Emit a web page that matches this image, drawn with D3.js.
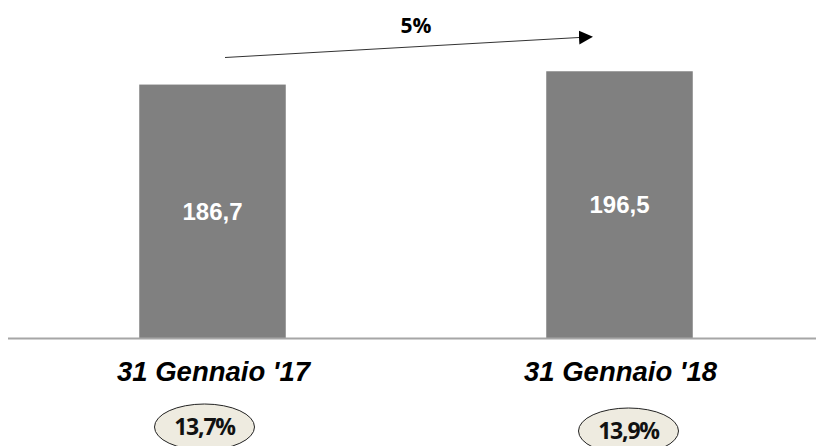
<!DOCTYPE html>
<html>
<head>
<meta charset="utf-8">
<script src="https://cdn.jsdelivr.net/npm/d3@7"></script>
<style>
  body { margin: 0; background: #fff; }
</style>
</head>
<body>
<div id="chart"></div>
<script>
// data
let categories = ["31 Gennaio '17", "31 Gennaio '18"];
let values = [186.7, 196.5];
let ratios = ["13,7%", "13,9%"];
let growth = "5%";

let width = 816, height = 446;

// small horizontal nudge of the ratio bubbles relative to bar centre
let bubbleShift = [-8, 9];

let svg = d3.select("#chart")
    .append("svg")
    .attr("width", width)
    .attr("height", height);

// scales
let x = d3.scaleBand()
    .domain(categories)
    .range([9, 823])
    .paddingInner(0.64)
    .paddingOuter(0.32);

let y = d3.scaleLinear()
    .domain([0, 249])
    .range([338, 0]);

let fmt = function (v) { return d3.format(".1f")(v).replace(".", ","); };

// bars
svg.selectAll("rect.bar")
    .data(values)
    .enter()
    .append("rect")
    .attr("class", "bar")
    .attr("x", function (d, i) { return x(categories[i]) })
    .attr("y", function (d) { return y(d) })
    .attr("width", x.bandwidth())
    .attr("height", function (d) { return y(0) - y(d) })
    .style("fill", "#808080");

// value labels inside bars
svg.selectAll("text.val")
    .data(values)
    .enter()
    .append("text")
    .attr("class", "val")
    .attr("x", function (d, i) { return x(categories[i]) + x.bandwidth() / 2 })
    .attr("y", function (d) { return (y(d) + y(0)) / 2 + 8.5 })
    .attr("text-anchor", "middle")
    .style("font-family", "'Liberation Sans', Arial, sans-serif")
    .style("font-weight", "bold")
    .style("font-size", "24px")
    .style("fill", "#fff")
    .text(function (d) { return fmt(d) });

// baseline
svg.append("line")
    .attr("x1", 8)
    .attr("x2", width)
    .attr("y1", y(0) + 0.5)
    .attr("y2", y(0) + 0.5)
    .attr("stroke", "#a6a6a6")
    .attr("stroke-width", 2);

// category labels
svg.selectAll("text.cat")
    .data(categories)
    .enter()
    .append("text")
    .attr("class", "cat")
    .attr("x", function (d) { return x(d) + x.bandwidth() / 2 + 1 })
    .attr("y", 381)
    .attr("text-anchor", "middle")
    .style("font-family", "'Liberation Sans', Arial, sans-serif")
    .style("font-weight", "bold")
    .style("font-style", "italic")
    .style("font-size", "27.5px")
    .style("fill", "#000")
    .text(function (d) { return d });

// ratio bubbles
let bubbles = svg.selectAll("g.bubble")
    .data(ratios)
    .enter()
    .append("g")
    .attr("class", "bubble")
    .attr("transform", function (d, i) {
        return "translate(" + (x(categories[i]) + x.bandwidth() / 2 + bubbleShift[i]) + "," + (427 + i * 4) + ")";
    });

bubbles.append("ellipse")
    .attr("rx", 50)
    .attr("ry", 23)
    .style("fill", "#eeebe0")
    .style("stroke", "#222")
    .style("stroke-width", 1);

bubbles.append("text")
    .attr("y", 8)
    .attr("text-anchor", "middle")
    .style("font-family", "'Open Sans', sans-serif")
    .style("font-weight", "bold")
    .style("font-size", "23px")
    .style("letter-spacing", "-1.2px")
    .style("fill", "#111")
    .text(function (d) { return d });

// growth arrow
svg.append("defs")
    .append("marker")
    .attr("id", "head")
    .attr("viewBox", "0 0 10 10")
    .attr("refX", 0)
    .attr("refY", 5)
    .attr("markerWidth", 14)
    .attr("markerHeight", 15)
    .attr("markerUnits", "userSpaceOnUse")
    .attr("orient", "auto")
    .append("path")
    .attr("d", "M0,0 L10,5 L0,10 Z")
    .style("fill", "#000");

svg.append("line")
    .attr("x1", 225)
    .attr("y1", 57.5)
    .attr("x2", 579)
    .attr("y2", 37.5)
    .attr("stroke", "#333")
    .attr("stroke-width", 1)
    .attr("marker-end", "url(#head)");

svg.append("text")
    .attr("x", 416)
    .attr("y", 33)
    .attr("text-anchor", "middle")
    .style("font-family", "'Open Sans', sans-serif")
    .style("font-weight", "bold")
    .style("font-size", "21px")
    .style("fill", "#000")
    .text(growth);
</script>
</body>
</html>
